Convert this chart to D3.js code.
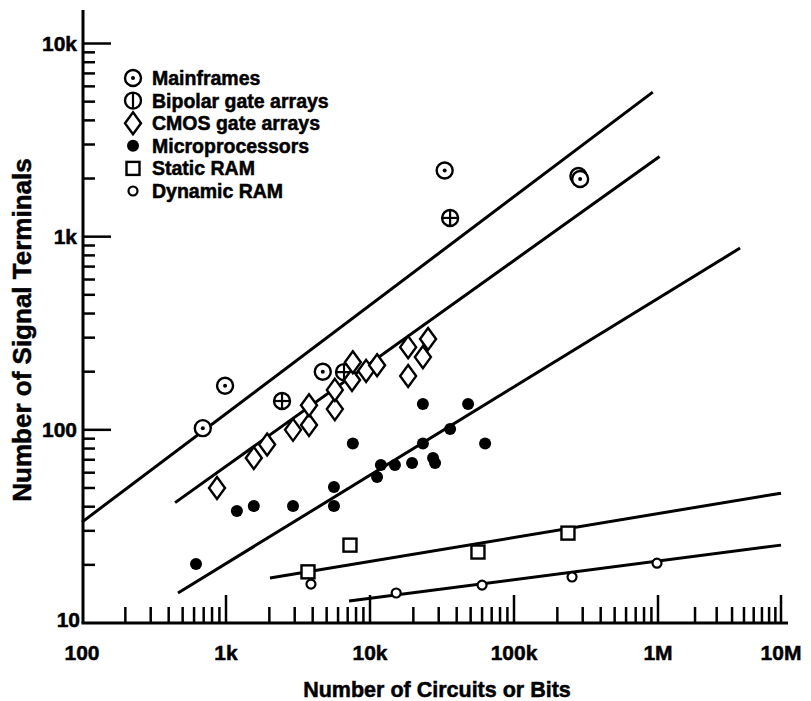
<!DOCTYPE html>
<html>
<head>
<meta charset="utf-8">
<script src="https://cdn.jsdelivr.net/npm/d3@7"></script>
<style>
  body { margin: 0; background: #fff; }
  text { font-family: "Liberation Sans", Arial, sans-serif; font-weight: bold; fill: #000; stroke: #000; stroke-width: 0.5px; }
</style>
</head>
<body>
<svg id="canvas" width="811" height="701"></svg>
<script>
// values: [circuits or bits, signal terminals]
const mainframes = [[690, 102], [985, 169], [4700, 200], [33000, 2200], [280000, 2060], [288000, 1990]];
const bipolarGateArrays = [[2450, 141], [6600, 199], [36000, 1250]];
const cmosGateArrays = [
  [866, 50], [1560, 71.5], [1930, 84], [2920, 100], [3770, 106], [3770, 134],
  [5700, 128], [5700, 161], [7500, 181], [7600, 224], [9400, 202], [11200, 216],
  [18400, 268], [18400, 190], [23300, 238], [25300, 295]
];
const microprocessors = [
  [619, 20.2], [1190, 38], [1560, 40.3], [2920, 40.3], [5620, 40.3], [5620, 50.6],
  [7600, 85], [11200, 57], [11900, 65.7], [14900, 65.7], [19600, 67.3], [27400, 71.5],
  [28300, 67.3], [23300, 85], [23300, 136], [36000, 101], [48000, 136], [63000, 85]
];
const staticRam = [[3710, 18.4], [7260, 25.3], [56200, 23.3], [237000, 29.2]];
const dynamicRam = [[3890, 15.9], [15200, 14.3], [60000, 15.7], [253000, 17.3], [984000, 20.4]];

// fitted trend lines, start and end points
const trendLines = [
  [[100, 33.3], [920000, 5600]],
  [[443, 42], [1030000, 2600]],
  [[464, 14.3], [4650000, 873]],
  [[2020, 17.1], [10000000, 47]],
  [[7150, 13.0], [10000000, 25.3]]
];

const xTickLabels = ['100', '1k', '10k', '100k', '1M', '10M'];
const yTickLabels = ['10', '100', '1k', '10k'];
const legendLabels = ['Mainframes', 'Bipolar gate arrays', 'CMOS gate arrays', 'Microprocessors', 'Static RAM', 'Dynamic RAM'];

const svg = d3.select('#canvas');

// the last decade on the original axis is drawn shorter, so the scale is piecewise
const x = d3.scaleLog().domain([100, 1e6, 1e7]).range([82, 658, 781]);
const y = d3.scaleLog().domain([10, 10000]).range([623, 43.5]);

const axisX = 83, axisY = 623;

// axes lines
svg.append('line')
  .attr('x1', axisX).attr('y1', 10).attr('x2', axisX).attr('y2', axisY)
  .attr('stroke', '#000').attr('stroke-width', 3);
svg.append('line')
  .attr('x1', axisX - 1.5).attr('y1', axisY).attr('x2', 788).attr('y2', axisY)
  .attr('stroke', '#000').attr('stroke-width', 3);

const isMajor = (v) => Math.abs(Math.log10(v) - Math.round(Math.log10(v))) < 1e-9;

svg.selectAll('line.xtick')
  .data(x.ticks().filter((d) => d > 100))
  .enter()
  .append('line')
  .attr('class', 'xtick')
  .attr('x1', (d) => x(d)).attr('x2', (d) => x(d))
  .attr('y1', axisY)
  .attr('y2', (d) => axisY - (isMajor(d) ? 28 : 16))
  .attr('stroke', '#000').attr('stroke-width', 2.5);

svg.selectAll('line.ytick')
  .data(y.ticks().filter((d) => d > 10 && d <= 10000))
  .enter()
  .append('line')
  .attr('class', 'ytick')
  .attr('y1', (d) => y(d)).attr('y2', (d) => y(d))
  .attr('x1', axisX)
  .attr('x2', (d) => axisX + (isMajor(d) ? 28 : 12))
  .attr('stroke', '#000').attr('stroke-width', 2.5);

// tick labels
svg.selectAll('text.xlab')
  .data(xTickLabels)
  .enter()
  .append('text')
  .attr('class', 'xlab')
  .attr('x', (d, i) => x(100 * Math.pow(10, i)))
  .attr('y', 660)
  .attr('text-anchor', 'middle')
  .attr('font-size', 21)
  .text((d) => d);

svg.selectAll('text.ylab')
  .data(yTickLabels)
  .enter()
  .append('text')
  .attr('class', 'ylab')
  .attr('x', (d, i) => i === 0 ? 80 : 77)
  .attr('y', (d, i) => y(10 * Math.pow(10, i)) + (i === 0 ? 4 : 7))
  .attr('text-anchor', 'end')
  .attr('font-size', 21)
  .text((d) => d);

// titles
svg.append('text')
  .attr('x', 437).attr('y', 697)
  .attr('text-anchor', 'middle')
  .attr('font-size', 21.5)
  .text('Number of Circuits or Bits');
svg.append('text')
  .attr('transform', 'translate(31,330) rotate(-90)')
  .attr('text-anchor', 'middle')
  .attr('font-size', 26)
  .text('Number of Signal Terminals');

// trend lines
const line = d3.line().x((d) => x(d[0])).y((d) => y(d[1]));
svg.selectAll('path.trend')
  .data(trendLines)
  .enter()
  .append('path')
  .attr('class', 'trend')
  .attr('d', line)
  .attr('fill', 'none')
  .attr('stroke', '#000')
  .attr('stroke-width', 3);

// marker drawing
function drawMarker(g, kind, legend) {
  if (kind === 0) {
    g.append('circle').attr('r', 8).attr('fill', '#fff').attr('stroke', '#000').attr('stroke-width', 2.4);
    g.append('circle').attr('r', 2).attr('fill', '#000');
  } else if (kind === 1) {
    g.append('circle').attr('r', 8).attr('fill', '#fff').attr('stroke', '#000').attr('stroke-width', 2.4);
    g.append('line').attr('x1', 0).attr('x2', 0).attr('y1', -8).attr('y2', 8).attr('stroke', '#000').attr('stroke-width', 2.2);
    if (!legend) {
      g.append('line').attr('x1', -8).attr('x2', 8).attr('y1', 0).attr('y2', 0).attr('stroke', '#000').attr('stroke-width', 2.2);
    }
  } else if (kind === 2) {
    g.append('path').attr('d', 'M0,-11L8,0L0,11L-8,0Z').attr('fill', '#fff').attr('stroke', '#000').attr('stroke-width', 2.4);
  } else if (kind === 3) {
    g.append('circle').attr('r', 6).attr('fill', '#000');
  } else if (kind === 4) {
    g.append('rect').attr('x', -6.5).attr('y', -6.5).attr('width', 13).attr('height', 13)
      .attr('fill', '#fff').attr('stroke', '#000').attr('stroke-width', 2.4);
  } else {
    g.append('circle').attr('r', 4.5).attr('fill', '#fff').attr('stroke', '#000').attr('stroke-width', 2.2);
  }
}

const series = [mainframes, bipolarGateArrays, cmosGateArrays, microprocessors, staticRam, dynamicRam];
series.forEach((pts, k) => {
  svg.selectAll('g.s' + k)
    .data(pts)
    .enter()
    .append('g')
    .attr('class', 's' + k)
    .attr('transform', (d) => `translate(${x(d[0])},${y(d[1])})`)
    .each(function () { drawMarker(d3.select(this), k, false); });
});

// legend
const legend = svg.selectAll('g.legend')
  .data(legendLabels)
  .enter()
  .append('g')
  .attr('class', 'legend')
  .attr('transform', (d, i) => `translate(133,${78 + i * 22.6})`);
legend.each(function (d, i) { drawMarker(d3.select(this), i, true); });
legend.append('text')
  .attr('x', 19)
  .attr('y', 7)
  .attr('font-size', 19.5)
  .text((d) => d);
</script>
</body>
</html>
